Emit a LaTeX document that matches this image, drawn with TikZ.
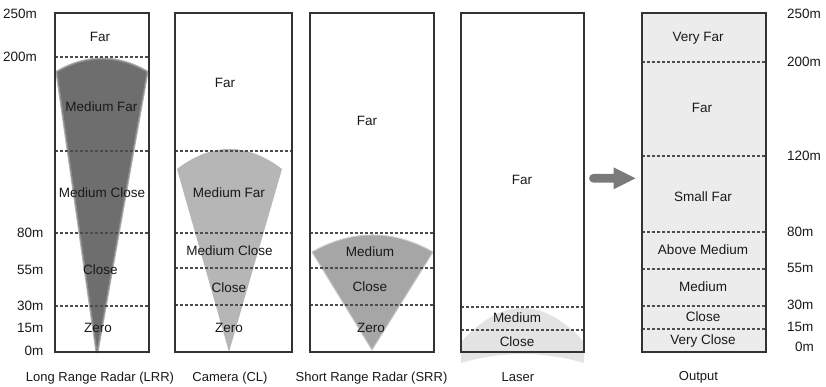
\documentclass[tikz,border=0pt]{standalone}
\usepackage{fontspec}
\setmainfont{Liberation Sans}
\begin{document}
\begin{tikzpicture}[x=1pt,y=-1pt,
  zone/.style={draw=black!80, line width=1.2pt},
  sep/.style={draw=black!70, line width=1.1pt, dash pattern=on 3pt off 2pt},
  lbl/.style={inner sep=0pt, text=black!90, font=\fontsize{13.5}{16}\selectfont},
  axis/.style={inner sep=0pt, text=black!90, font=\fontsize{13.5}{16}\selectfont},
  caption/.style={inner sep=0pt, text=black!90, font=\fontsize{13}{15}\selectfont}]
\definecolor{lrrgrey}{HTML}{6E6E6E}
\definecolor{camgrey}{HTML}{B6B6B6}
\definecolor{srrgrey}{HTML}{A6A6A6}
\definecolor{lasgrey}{HTML}{E3E3E3}
\definecolor{outgrey}{HTML}{ECECEC}
\definecolor{arrowgrey}{HTML}{7A7A7A}
\useasboundingbox (0,0) rectangle (826,387);

% ---- coverage cones ----
% long range radar, with a soft rim
\path[draw=lrrgrey!55, line width=3pt, line join=round]
  (97,352) -- (57,72) .. controls (87,54.7) and (117,54.7) .. (147,72) -- cycle;
\path[fill=lrrgrey, draw=lrrgrey!80, line width=1pt, line join=round]
  (97,352) -- (57,72) .. controls (87,54.7) and (117,54.7) .. (147,72) -- cycle;
% camera
\path[fill=camgrey]
  (229,352) -- (177,169) .. controls (212,142.3) and (247,142.3) .. (282,169) -- cycle;
% short range radar
\path[fill=srrgrey, draw=srrgrey!60, line width=1pt, line join=round]
  (372,350) -- (312,252) .. controls (352,229.3) and (393,229.3) .. (433,252) -- cycle;
% laser
\path[fill=lasgrey]
  (461,363) -- (461,342) .. controls (502,296.7) and (543,296.7) .. (584,342)
  -- (584,363) .. controls (543,351) and (502,351) .. (461,363) -- cycle;
% output band
\path[fill=outgrey] (642,13) rectangle (766,352);

% ---- range separators ----
\draw[sep] (55,57) -- (149,57);
\draw[sep] (55,151) -- (149,151);
\draw[sep] (55,233) -- (149,233);
\draw[sep] (55,306) -- (149,306);

\draw[sep] (175,151) -- (292,151);
\draw[sep] (175,233) -- (292,233);
\draw[sep] (175,268) -- (292,268);
\draw[sep] (175,305) -- (292,305);

\draw[sep] (310,233) -- (434,233);
\draw[sep] (310,268) -- (434,268);
\draw[sep] (310,305) -- (434,305);

\draw[sep] (461,307) -- (584,307);
\draw[sep] (461,330) -- (584,330);

\draw[sep] (642,62) -- (766,62);
\draw[sep] (642,156) -- (766,156);
\draw[sep] (642,232) -- (766,232);
\draw[sep] (642,269) -- (766,269);
\draw[sep] (642,306) -- (766,306);
\draw[sep] (642,329) -- (766,329);

% ---- sensor frames ----
\draw[zone] (55,13) rectangle (149,352);
\draw[zone] (175,13) rectangle (292,352);
\draw[zone] (310,13) rectangle (434,352);
\draw[zone] (461,13) rectangle (584,352);
\draw[zone] (642,13) rectangle (766,352);

% ---- fusion arrow ----
\path[fill=arrowgrey]
  (593.5,173.9) -- (613.5,173.9) -- (613.5,167.3) -- (635.5,178.3)
  -- (613.5,189.3) -- (613.5,182.7) -- (593.5,182.7)
  arc[start angle=90, end angle=270, radius=4.4] -- cycle;

% ---- left distance scale ----
\node[axis, anchor=west] (l250) at (3,14) {250m};
\node[axis, anchor=west] (l200) at (3,57) {200m};
\node[axis, anchor=west] (l80) at (17,233) {80m};
\node[axis, anchor=west] (l55) at (17,270) {55m};
\node[axis, anchor=west] (l30) at (17,306) {30m};
\node[axis, anchor=west] (l15) at (17,327.5) {15m};
\node[axis, anchor=east] (l0) at (43.5,350.5) {0m};

% ---- right distance scale ----
\node[axis, anchor=west] (r250) at (787,14) {250m};
\node[axis, anchor=west] (r200) at (787,62) {200m};
\node[axis, anchor=west] (r120) at (787,156) {120m};
\node[axis, anchor=west] (r80) at (787,232) {80m};
\node[axis, anchor=west] (r55) at (787,268) {55m};
\node[axis, anchor=west] (r30) at (787,305) {30m};
\node[axis, anchor=west] (r15) at (787,327) {15m};
\node[axis, anchor=west] (r0) at (795,347) {0m};

% ---- zone names ----
\node[lbl] (lrrFar) at (100,37) {Far};
\node[lbl] (lrrMF) at (101.5,106.5) {Medium Far};
\node[lbl] (lrrMC) at (102,193) {Medium Close};
\node[lbl] (lrrC) at (100.5,270) {Close};
\node[lbl] (lrrZ) at (98,327.5) {Zero};

\node[lbl] (camFar) at (225,83) {Far};
\node[lbl] (camMF) at (229,193) {Medium Far};
\node[lbl] (camMC) at (229.5,250.5) {Medium Close};
\node[lbl] (camC) at (229,287.5) {Close};
\node[lbl] (camZ) at (229,327.5) {Zero};

\node[lbl] (srrFar) at (367,121) {Far};
\node[lbl] (srrM) at (370,252) {Medium};
\node[lbl] (srrC) at (370,287) {Close};
\node[lbl] (srrZ) at (371,328) {Zero};

\node[lbl] (lasFar) at (522,180) {Far};
\node[lbl] (lasM) at (517,318) {Medium};
\node[lbl] (lasC) at (517,342) {Close};

\node[lbl] (outVF) at (698,38.5) {Very Far};
\node[lbl] (outF) at (702,108) {Far};
\node[lbl] (outSF) at (703,196.5) {Small Far};
\node[lbl] (outAM) at (703,250) {Above Medium};
\node[lbl] (outM) at (703,287) {Medium};
\node[lbl] (outC) at (703,317) {Close};
\node[lbl] (outVC) at (703,341.5) {Very Close};

% ---- captions ----
\node[caption] (capLRR) at (100,378) {Long Range Radar (LRR)};
\node[caption] (capCL) at (230,378) {Camera (CL)};
\node[caption] (capSRR) at (371.5,378) {Short Range Radar (SRR)};
\node[caption] (capLas) at (518,377) {Laser};
\node[caption] (capOut) at (698.5,377) {Output};
\end{tikzpicture}
\end{document}
